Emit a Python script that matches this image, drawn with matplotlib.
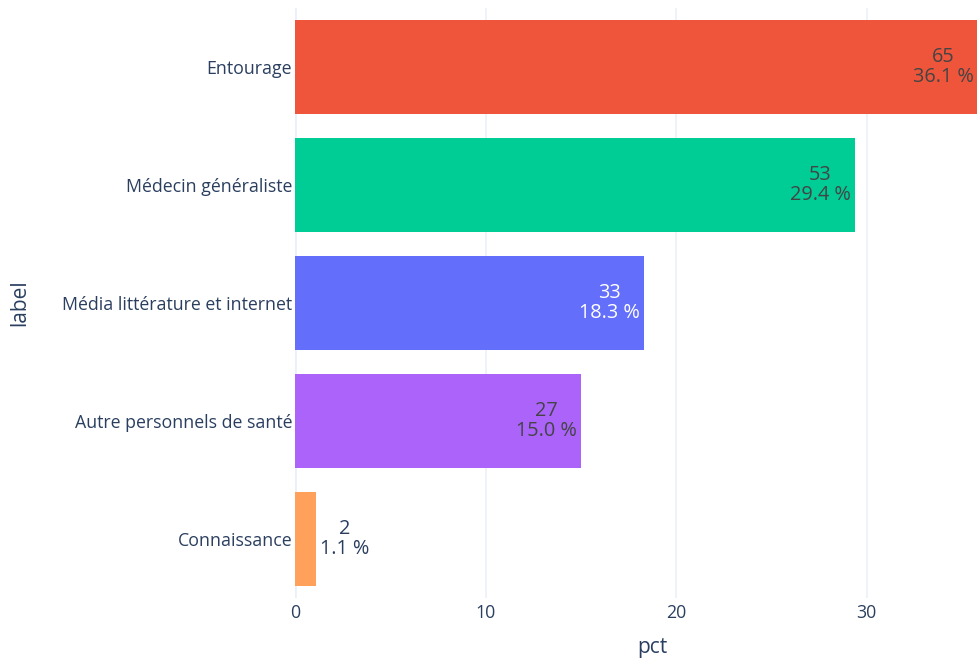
import matplotlib
matplotlib.use("Agg")
import matplotlib.pyplot as plt

labels = ["Entourage", "Médecin généraliste", "Média littérature et internet",
          "Autre personnels de santé", "Connaissance"]
counts = [65, 53, 33, 27, 2]
pcts = [36.1, 29.4, 18.3, 15.0, 1.1]
colors = ["#EF553B", "#00CC96", "#636EFA", "#AB63FA", "#FFA15A"]
text_colors = ["#444444", "#444444", "#ffffff", "#444444", "#444444"]
xticks = [0, 10, 20, 30]

plt.rcParams['font.family'] = ['Open Sans', 'DejaVu Sans']

fig = plt.figure(figsize=(9.78, 6.62), dpi=100)
ax = fig.add_axes([295/978, 1 - 598/662, 1 - 295/978, (598 - 8)/662])

ypos = list(range(len(labels)))
ax.barh(ypos, pcts, height=0.8, color=colors, zorder=2)
ax.set_ylim(len(labels) - 0.5, -0.5)
xmax = 35.85
ax.set_xlim(0, xmax)

for y, c, p, col, tc in zip(ypos, counts, pcts, colors, text_colors):
    txt = f"{c}\n{p:.1f} %"
    if p > 5:
        xend = min(p, xmax)
        ax.annotate(txt, xy=(xend, y), xytext=(-3, 0), textcoords="offset points",
                    ha="right", va="center", multialignment="center",
                    color=tc, fontsize=14.3, linespacing=1.05, zorder=3)
    else:
        ax.annotate(txt, xy=(p, y), xytext=(3, 0), textcoords="offset points",
                    ha="left", va="center", multialignment="center",
                    color="#2a3f5f", fontsize=14.3, linespacing=1.05, zorder=3)

ax.set_xticks(xticks)
ax.set_xticklabels([str(t) for t in xticks])
ax.set_yticks(ypos)
ax.set_yticklabels(labels)
ax.tick_params(axis="both", length=0, labelsize=12.8, colors="#2a3f5f")
ax.tick_params(axis="x", pad=4)
ax.tick_params(axis="y", pad=2)
ax.grid(axis="x", color="#EBF0F8", linewidth=1.2, zorder=0)
ax.axvline(0, color="#EBF0F8", linewidth=2, zorder=1)
for s in ax.spines.values():
    s.set_visible(False)
ax.set_xlabel("pct", fontsize=15, color="#2a3f5f", va="center")
ax.set_ylabel("label", fontsize=15, color="#2a3f5f", va="center")
ax.xaxis.set_label_coords((652 - 295) / 683, (598 - 648) / 590)
ax.yaxis.set_label_coords((20 - 295) / 683, 0.5)

fig.savefig("out.png", dpi=100)
